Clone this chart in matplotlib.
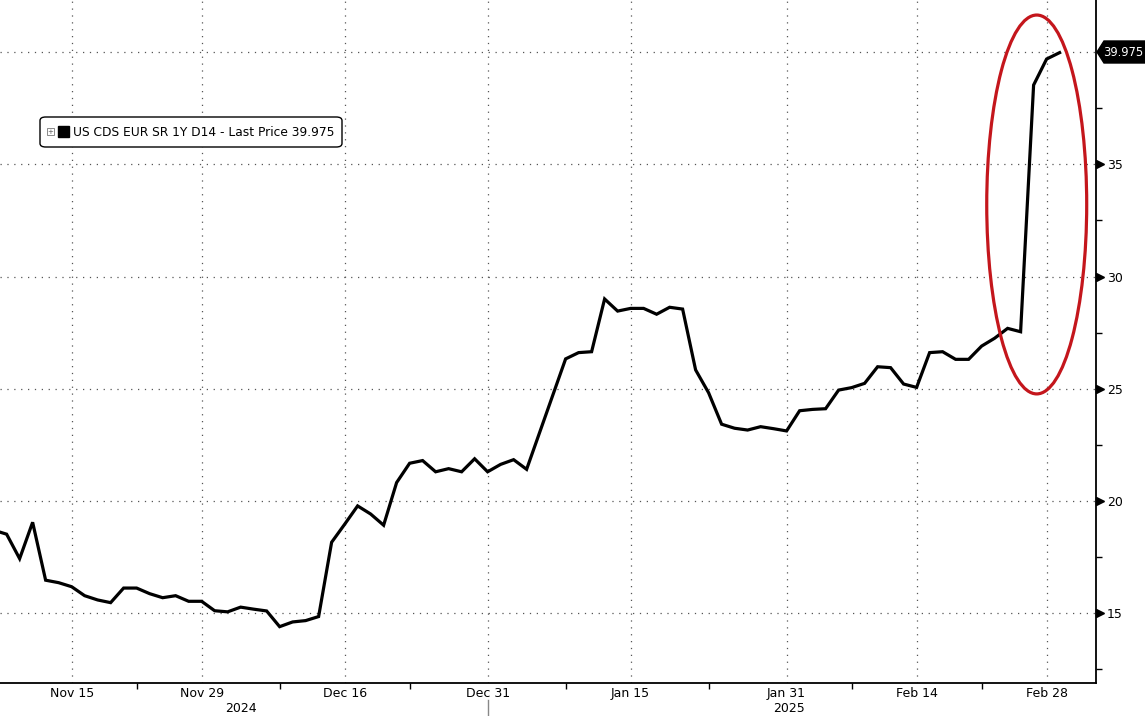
import numpy as np
import pandas as pd
import matplotlib
matplotlib.use('Agg')
import matplotlib.pyplot as plt
import matplotlib.transforms as mtrans
from matplotlib.patches import Ellipse, FancyBboxPatch, Polygon, Rectangle

# daily (weekday) closes, 7 Nov 2024 .. 3 Mar 2025
dates = pd.bdate_range('2024-11-07', '2025-03-03')
values = [
    18.70, 18.52, 17.43, 19.05, 16.47, 16.36, 16.18, 15.78, 15.59, 15.47,
    16.12, 16.12, 15.87, 15.69, 15.78, 15.53, 15.53, 15.11, 15.06, 15.27,
    15.18, 15.10, 14.40, 14.61, 14.67, 14.85, 18.16, 18.96, 19.78, 19.42,
    18.92, 20.82, 21.68, 21.80, 21.30, 21.44, 21.30, 21.88, 21.30, 21.63,
    21.84, 21.41, 23.05, 24.69, 26.33, 26.61, 26.65, 29.00, 28.46, 28.58,
    28.58, 28.32, 28.63, 28.55, 25.84, 24.82, 23.42, 23.24, 23.16, 23.31,
    23.22, 23.12, 24.02, 24.08, 24.11, 24.94, 25.05, 25.24, 25.98, 25.94,
    25.21, 25.06, 26.61, 26.65, 26.31, 26.31, 26.90, 27.25, 27.69, 27.54,
    38.53, 39.69, 39.975,
]
last_price = values[-1]
legend_label = 'US CDS EUR SR 1Y D14 - Last Price %.3f' % last_price

major_dates = ['2024-11-15', '2024-11-29', '2024-12-16', '2024-12-31',
               '2025-01-15', '2025-01-31', '2025-02-14', '2025-02-28']
minor_dates = ['2024-11-22', '2024-12-09', '2024-12-23', '2025-01-08',
               '2025-01-23', '2025-02-07', '2025-02-21']
y_major = [15, 20, 25, 30, 35, 40]
y_labels = ['15', '20', '25', '30', '35', '']   # 40 is hidden under the price tag
y_minor = [12.5, 17.5, 22.5, 27.5, 32.5, 37.5]

W, H = 1145, 716
fig = plt.figure(figsize=(W / 100, H / 100), dpi=100)
ax = fig.add_axes([0, 1 - 683 / H, 1096 / W, 683 / H])

x = np.arange(len(dates))
pos = {d: i for i, d in enumerate(dates)}
xmaj = [pos[pd.Timestamp(d)] for d in major_dates]
xmin = [pos[pd.Timestamp(d)] for d in minor_dates]

ax.plot(x, values, color='black', lw=2.3, solid_joinstyle='miter', zorder=3)

ax.set_xlim(0.49, 84.8)
ax.set_ylim(11.89, 42.32)

for s in ['left', 'top']:
    ax.spines[s].set_visible(False)
for s in ['right', 'bottom']:
    ax.spines[s].set_linewidth(1.3)

ax.set_xticks(xmaj)
ax.set_xticklabels([pd.Timestamp(d).strftime('%b %d').replace(' 0', ' ') for d in major_dates])
ax.set_xticks(xmin, minor=True)
ax.tick_params(axis='x', which='major', length=0, pad=3, labelsize=9)
ax.tick_params(axis='x', which='minor', length=4, width=1, direction='out')

ax.yaxis.tick_right()
ax.set_yticks(y_major)
ax.set_yticklabels(y_labels)
ax.set_yticks(y_minor, minor=True)
ax.tick_params(axis='y', which='major', length=0, pad=8, labelsize=9)
ax.tick_params(axis='y', which='minor', length=4, width=1, direction='out')

ax.grid(True, which='major', color='#555555', lw=0.9, ls=(0, (1, 4.5)))

# little triangles on the right axis
tr = mtrans.blended_transform_factory(ax.transAxes, ax.transData)
ax.plot([1.0037] * (len(y_major) - 1), y_major[:-1], ls='none', marker='>', ms=5.5,
        color='black', transform=tr, clip_on=False)

# year labels and separator
trx = mtrans.blended_transform_factory(ax.transData, fig.transFigure)
split = pos[pd.Timestamp('2024-12-31')]
x0, x1 = ax.get_xlim()
ax.plot([split, split], [1 - 700 / H, 0], color='#888888', lw=1,
        transform=trx, clip_on=False)
fig.text((x0 + split - 0.5) / 2, 1 - 708 / H, '2024', ha='center', va='center',
         fontsize=9, transform=trx)
fig.text((split - 0.5 + x1) / 2, 1 - 708 / H, '2025', ha='center', va='center',
         fontsize=9, transform=trx)

# red highlight
ax.add_patch(Ellipse((80.24, 33.21), 7.69, 16.88, fill=False,
                     edgecolor='#c4161c', lw=2.3, zorder=4, clip_on=False))

# last-price tag
def fp(px, py):
    return (px / W, 1 - py / H)

tag = Polygon([fp(1097, 52), fp(1104, 41), fp(1145, 41), fp(1145, 63), fp(1104, 63)],
              closed=True, facecolor='black', edgecolor='black',
              transform=fig.transFigure, clip_on=False)
fig.patches.append(tag)
fig.text(*fp(1103, 52.5), '%.3f' % last_price, color='white', fontsize=8.3,
         ha='left', va='center')

# legend box
box = FancyBboxPatch(fp(40, 147), 302 / W, 30 / H,
                     boxstyle='round,pad=0,rounding_size=0.005',
                     facecolor='white', edgecolor='black', lw=1,
                     transform=fig.transFigure)
fig.patches.append(box)
fig.patches.append(Rectangle(fp(47, 135), 7 / W, 7 / H, facecolor='white',
                             edgecolor='#777777', lw=0.6, transform=fig.transFigure))
fig.text(*fp(50.5, 131.5), '+', fontsize=5, color='#555555', ha='center', va='center')
fig.patches.append(Rectangle(fp(58, 137), 11 / W, 11 / H, facecolor='black',
                             edgecolor='black', transform=fig.transFigure))
fig.text(*fp(73, 132), legend_label, fontsize=8.8, ha='left', va='center')

fig.savefig('out.png', dpi=100)
